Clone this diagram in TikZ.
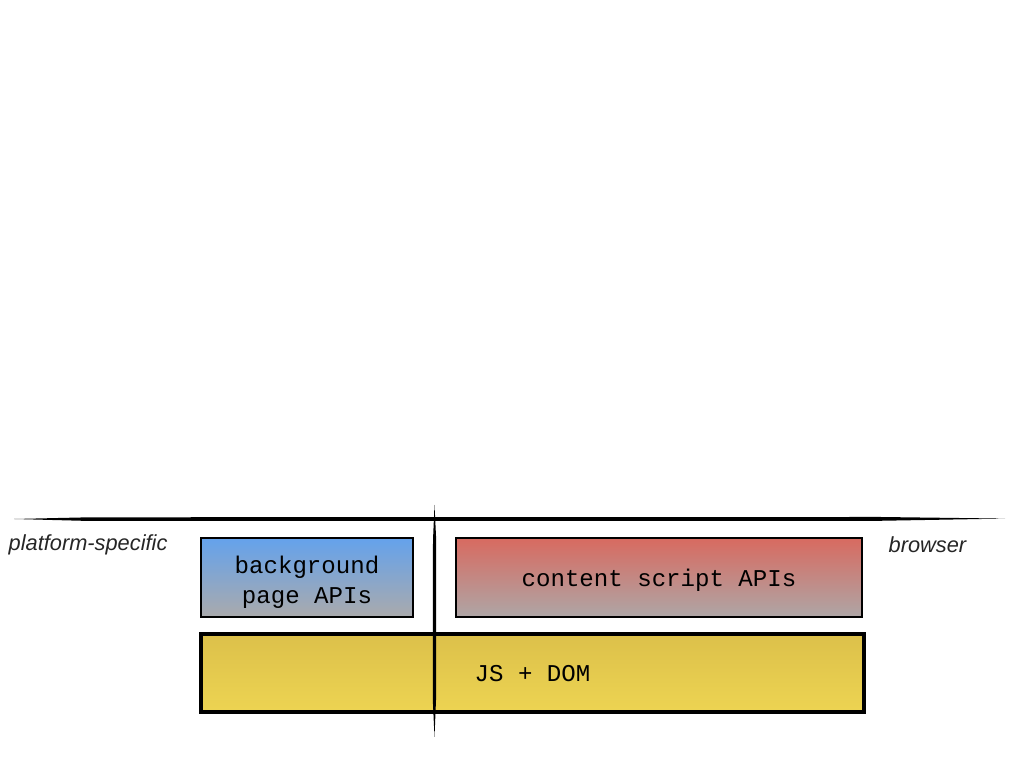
\documentclass[tikz,border=0pt]{standalone}
\usepackage{fontspec}
\setmainfont{Liberation Sans}
\setmonofont{Liberation Mono}
\usepackage{xcolor}
\usetikzlibrary{positioning}
\definecolor{bgtop}{RGB}{100,162,236}
\definecolor{bgbot}{RGB}{170,170,172}
\definecolor{cstop}{RGB}{216,106,96}
\definecolor{csbot}{RGB}{174,166,166}
\definecolor{jstop}{RGB}{220,192,74}
\definecolor{jsbot}{RGB}{237,212,82}

\tikzset{
apibox/.style={draw, line width=0.6pt, align=center, font=\ttfamily\fontsize{6.85}{8.6}\selectfont, inner sep=0pt},
oneline/.style={text height=6.2pt, text depth=1.2pt},
sidelabel/.style={font=\itshape\fontsize{6.2}{7}\selectfont, text=black!85, anchor=west, inner sep=0pt}
}

\begin{document}
\begin{tikzpicture}[x=0.01cm, y=-0.01cm]
\useasboundingbox (0,0) rectangle (1024,768);

% boxes
\node[apibox, text height=16.2pt, text depth=1.4pt, top color=bgtop, bottom color=bgbot, minimum width=2.12cm, minimum height=0.79cm] (bgapi) at (307,577.5) {background\\page APIs};
\node[apibox, oneline, top color=cstop, bottom color=csbot, minimum width=4.06cm, minimum height=0.79cm] (csapi) at (659,577.5) {content script APIs};
\node[apibox, oneline, line width=1.3pt, top color=jstop, bottom color=jsbot, minimum width=6.63cm, minimum height=0.78cm] (jsdom) at (532.5,673) {JS + DOM};

% labels
\node[sidelabel] (platform) at (8,545) {platform-specific};
\node[sidelabel] (browser) at (888,545) {browser};

% brush strokes
\fill (14,519) -- (90,517.3) -- (880,517) -- (1005,518.6) -- (880,520.8) -- (90,521) -- cycle;
\fill (434.5,505) -- (433,540) -- (432.8,700) -- (434.5,737) -- (436,700) -- (436.2,540) -- cycle;
\end{tikzpicture}
\end{document}
